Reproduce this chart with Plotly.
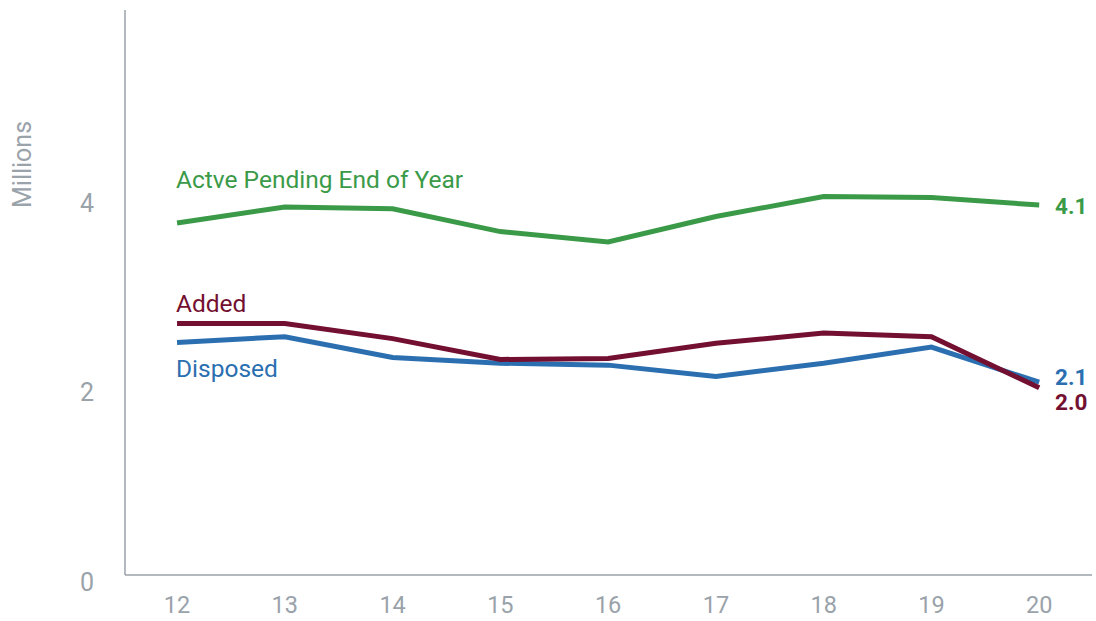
import plotly.graph_objects as go

years = [12, 13, 14, 15, 16, 17, 18, 19, 20]
pending = [3.79, 3.96, 3.94, 3.70, 3.59, 3.86, 4.07, 4.06, 3.98]
added = [2.73, 2.73, 2.57, 2.35, 2.36, 2.52, 2.63, 2.59, 2.05]
disposed = [2.53, 2.59, 2.37, 2.31, 2.29, 2.17, 2.31, 2.48, 2.11]
y_ticks = [0, 2, 4]
x_ticks = years

GREEN = "#3b9a48"
RED = "#730f30"
BLUE = "#2b6fb1"
GRAY = "#9aa2aa"
FONT = "Roboto, sans-serif"

fig = go.Figure()
for name, vals, col in [("Actve Pending End of Year", pending, GREEN),
                        ("Disposed", disposed, BLUE),
                        ("Added", added, RED)]:
    fig.add_trace(go.Scatter(x=years, y=vals, mode="lines", name=name,
                             line=dict(color=col, width=5), cliponaxis=False))

# axis lines
fig.add_shape(type="line", xref="paper", yref="y", x0=0, x1=1, y0=0.074, y1=0.074,
              line=dict(color=GRAY, width=1.5))
fig.add_shape(type="line", xref="paper", yref="paper", x0=0, x1=0, y0=0.0122, y1=1,
              line=dict(color=GRAY, width=1.5))

annots = [
    dict(x=12, y=4.25, text="Actve Pending End of Year", color=GREEN, bold=False),
    dict(x=12, y=2.94, text="Added", color=RED, bold=False),
    dict(x=12, y=2.25, text="Disposed", color=BLUE, bold=False),
    dict(x=20.15, y=3.97, text="4.1", color=GREEN, bold=True),
    dict(x=20.15, y=2.16, text="2.1", color=BLUE, bold=True),
    dict(x=20.15, y=1.90, text="2.0", color=RED, bold=True),
]
for a in annots:
    fig.add_annotation(x=a["x"], y=a["y"], xref="x", yref="y", text=a["text"],
                       showarrow=False, xanchor="left", yanchor="middle",
                       xshift=-3 if not a["bold"] else -2,
                       font=dict(family=FONT, size=22.5 if a["bold"] else 24.5,
                                 color=a["color"],
                                 weight="bold" if a["bold"] else "normal"))

fig.add_annotation(x=-0.1065, y=0.729, xref="paper", yref="paper", text="Millions",
                   textangle=-90, showarrow=False, xanchor="center", yanchor="middle",
                   font=dict(family=FONT, size=25, color=GRAY))

fig.update_layout(
    width=1096, height=621,
    margin=dict(l=125, r=4, t=10, b=39, autoexpand=False),
    paper_bgcolor="white", plot_bgcolor="white",
    showlegend=False,
    font=dict(family=FONT, color=GRAY, size=24),
    xaxis=dict(range=[11.517, 20.49], tickvals=x_ticks, ticktext=[str(v) for v in x_ticks],
               showgrid=False, zeroline=False, showline=False, ticks="", automargin=False,
               ticklabelstandoff=6, tickfont=dict(size=23.5, color=GRAY, family=FONT)),
    yaxis=dict(range=[0, 6.04], tickvals=y_ticks, showgrid=False, zeroline=False,
               showline=False, ticks="", automargin=False, ticklabelstandoff=30,
               tickfont=dict(size=25, color=GRAY, family=FONT)),
)

fig.write_html("out.html", config={"displayModeBar": False},
               post_script="document.body.style.margin='0';")
